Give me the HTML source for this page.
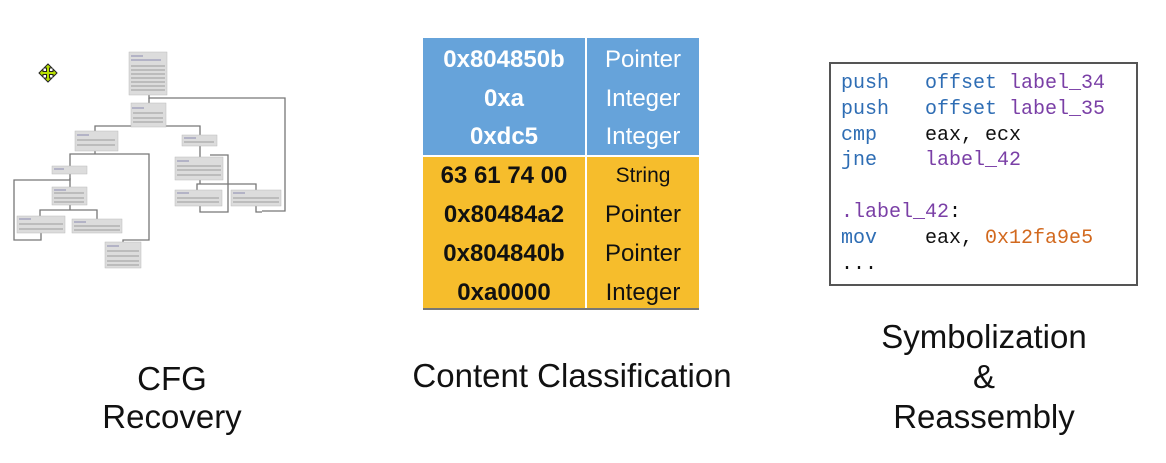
<!DOCTYPE html>
<html><head><meta charset="utf-8"><style>
html,body{margin:0;padding:0;background:#fff;width:1166px;height:463px;overflow:hidden;position:relative;font-family:"Liberation Sans",sans-serif}
.lbl{position:absolute;font-size:33px;color:#111;text-align:center;line-height:38px}
.tbl{position:absolute;left:423px;top:38px;width:276px;height:271px}
.row{position:absolute;left:0;width:276px;font-size:24px;line-height:39px}
.c1{position:absolute;left:0;width:162px;text-align:center;font-weight:bold}
.c2{position:absolute;left:164px;width:112px;text-align:center}
.code{position:absolute;left:829px;top:62px;width:309px;height:224px;border:2px solid #555;box-sizing:border-box;font-family:"Liberation Mono",monospace;font-size:20px;line-height:25.8px;padding:7px 0 0 10px;white-space:pre;color:#111}
.b{color:#2e6db4}.p{color:#7a3fa6}.o{color:#d2691e}
</style></head><body>
<svg width="300" height="280" style="position:absolute;left:0;top:0" viewBox="0 0 300 280">
<g fill="none" stroke="#777" stroke-width="1.3">
<path d="M149 95 V98 H285 V211 H262"/>
<path d="M149 98 V103"/>
<path d="M95 131 V126 H200 V135"/>
<path d="M95 151 V154 H70 V166 M95 154 H149 V240 H123 V242"/>
<path d="M70 173 V187"/>
<path d="M70 178 V180 H14 V240 H41 V233"/>
<path d="M70 205 V210 H40 V216 M70 210 H97 V219"/>
<path d="M200 146 V157"/>
<path d="M200 180 V184 H197 V190 M200 184 H256 V190"/>
<path d="M200 206 V212 H228 V155 H210"/>
<path d="M256 206 V212 H262"/>
</g>
<g fill="#dcdcdc" stroke="#bbb" stroke-width="0.5">
<rect x="129" y="52" width="38" height="43"/>
<rect x="131" y="103" width="35" height="24"/>
<rect x="75" y="131" width="43" height="20"/>
<rect x="182" y="135" width="35" height="11"/>
<rect x="52" y="166" width="35" height="8"/>
<rect x="175" y="157" width="48" height="23"/>
<rect x="52" y="187" width="35" height="18"/>
<rect x="175" y="190" width="47" height="16"/>
<rect x="231" y="190" width="50" height="16"/>
<rect x="17" y="216" width="48" height="17"/>
<rect x="72" y="219" width="50" height="14"/>
<rect x="105" y="242" width="36" height="26"/>
</g>
<g stroke="#8a8ab0" stroke-width="1">
<path d="M131 56h12M131 60h30M132 108h12M77 135h12M184 138h12M54 169h10M177 161h12M54 190h12M177 193h12M233 193h12M19 219h12M74 222h12M107 246h12"/>
</g>
<g stroke="#888" stroke-width="0.8">
<path d="M131 66h34M131 70h34M131 74h34M131 78h34M131 82h34M131 86h34M131 90h34M133 113h30M133 118h30M133 122h30M77 140h38M77 145h38M184 142h30M177 166h44M177 170h44M177 175h44M54 193h30M54 198h30M54 202h30M177 198h42M177 202h42M233 198h46M233 202h46M19 224h44M19 229h44M74 226h46M74 230h46M107 251h32M107 256h32M107 261h32M107 265h32"/>
</g>
<g transform="translate(48,73)">
<path d="M0 -9 L4 -5 H1.5 V-1.5 H5 V-4 L9 0 L5 4 V1.5 H1.5 V5 H4 L0 9 L-4 5 H-1.5 V1.5 H-5 V4 L-9 0 L-5 -4 V-1.5 H-1.5 V-5 H-4 Z" fill="#b8e000" stroke="#222" stroke-width="1"/>
</g>
</svg>

<div class="tbl">
<div style="position:absolute;left:0;top:0;width:276px;height:117px;background:#66a3da"></div>
<div style="position:absolute;left:0;top:119px;width:276px;height:152px;background:#f6bd2c"></div>
<div style="position:absolute;left:162px;top:0;width:2px;height:271px;background:#fff"></div>
<div style="position:absolute;left:0;top:117px;width:276px;height:2px;background:#fff"></div>
<div style="position:absolute;left:0;top:270px;width:276px;height:2px;background:#777"></div>
<div class="row" style="top:2px;color:#fff"><span class="c1">0x804850b</span><span class="c2">Pointer</span></div>
<div class="row" style="top:41px;color:#fff"><span class="c1">0xa</span><span class="c2">Integer</span></div>
<div class="row" style="top:79px;color:#fff"><span class="c1">0xdc5</span><span class="c2">Integer</span></div>
<div class="row" style="top:118px;color:#111"><span class="c1">63 61 74 00</span><span class="c2" style="font-size:21px">String</span></div>
<div class="row" style="top:157px;color:#111"><span class="c1">0x80484a2</span><span class="c2">Pointer</span></div>
<div class="row" style="top:196px;color:#111"><span class="c1">0x804840b</span><span class="c2">Pointer</span></div>
<div class="row" style="top:235px;color:#111"><span class="c1">0xa0000</span><span class="c2">Integer</span></div>
</div>

<div class="code"><span class="b">push   offset </span><span class="p">label_34</span>
<span class="b">push   offset </span><span class="p">label_35</span>
<span class="b">cmp</span>    eax, ecx
<span class="b">jne</span>    <span class="p">label_42</span>

<span class="p">.label_42</span>:
<span class="b">mov</span>    eax, <span class="o">0x12fa9e5</span>
...</div>

<div class="lbl" style="left:72px;top:360px;width:200px">CFG<br>Recovery</div>
<div class="lbl" style="left:372px;top:357px;width:400px">Content Classification</div>
<div class="lbl" style="left:834px;top:317px;width:300px;line-height:40px">Symbolization<br>&amp;<br>Reassembly</div>
</body></html>
